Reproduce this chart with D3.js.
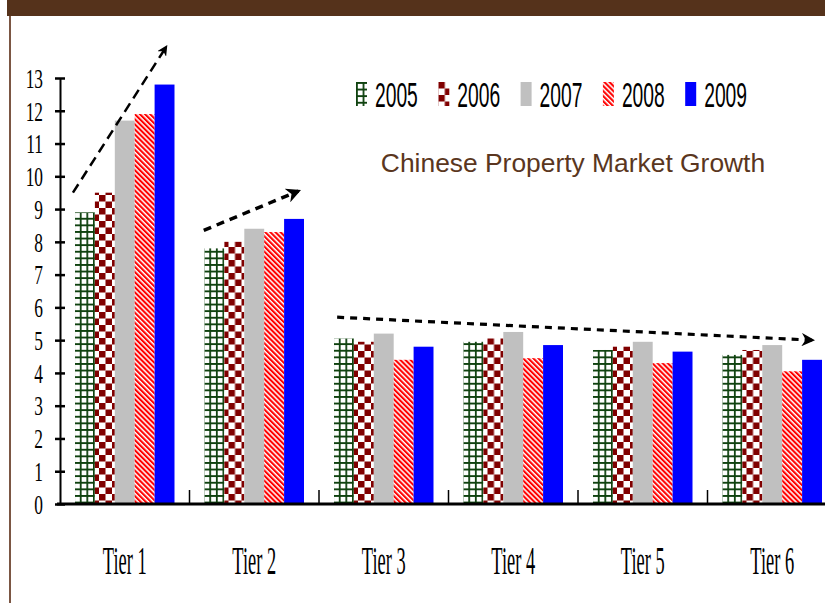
<!DOCTYPE html>
<html>
<head>
<meta charset="utf-8">
<script src="https://cdn.jsdelivr.net/npm/d3@7"></script>
<style>
body { margin: 0; background: #fff; }
svg { display: block; }
</style>
</head>
<body>
<div class="module"></div>
<script>
const tiers = ["Tier 1", "Tier 2", "Tier 3", "Tier 4", "Tier 5", "Tier 6"];
const years = ["2005", "2006", "2007", "2008", "2009"];
const v2005 = [8.9, 7.8, 5.05, 4.95, 4.7, 4.55];
const v2006 = [9.5, 8.0, 4.95, 5.05, 4.8, 4.7];
const v2007 = [11.7, 8.4, 5.2, 5.25, 4.95, 4.85];
const v2008 = [11.9, 8.3, 4.4, 4.45, 4.3, 4.05];
const v2009 = [12.8, 8.7, 4.8, 4.85, 4.65, 4.4];
const yTicks = [0, 1, 2, 3, 4, 5, 6, 7, 8, 9, 10, 11, 12, 13];
const chartTitle = "Chinese Property Market Growth";
// trend arrows, in (tier position, value) units
const trendArrows = [
	{ from: [0.1, 9.5], to: [0.82, 13.95], w: 2.5, dash: "10,6" },
	{ from: [1.11, 8.35], to: [1.84, 9.55], w: 3.5, dash: "8,6" },
	{ from: [2.14, 5.7], to: [5.81, 5.0], w: 3.2, dash: "7,6" }
];

const series = [v2005, v2006, v2007, v2008, v2009];
const data = tiers.map((t, i) => ({ tier: t, vals: years.map((y, j) => ({ year: y, v: series[j][i] })) }));

drawChart(d3.select('.module').node(), data);

function drawChart(rootDOM, data) {
	const W = 825, H = 603;
	const left = 60, right = 837, top = 78, bottom = 504;

	const svg = d3.select(rootDOM).append('svg')
		.attr('width', W).attr('height', H);

	const defs = svg.append('defs');

	// 2005 green grid
	const pGrid = defs.append('pattern').attr('id', 'p2005')
		.attr('patternUnits', 'userSpaceOnUse').attr('width', 6.6).attr('height', 6.6);
	pGrid.append('rect').attr('width', 6.6).attr('height', 6.6).attr('fill', '#fff');
	pGrid.append('path').attr('d', 'M0,0.9H6.6M0.9,0V6.6')
		.attr('stroke', '#0f420f').attr('stroke-width', 1.8);

	// 2006 checker
	const pCheck = defs.append('pattern').attr('id', 'p2006')
		.attr('patternUnits', 'userSpaceOnUse').attr('width', 13).attr('height', 13);
	pCheck.append('rect').attr('width', 13).attr('height', 13).attr('fill', '#fff');
	pCheck.append('rect').attr('width', 6.5).attr('height', 6.5).attr('fill', '#800000');
	pCheck.append('rect').attr('x', 6.5).attr('y', 6.5).attr('width', 6.5).attr('height', 6.5).attr('fill', '#800000');

	// 2008 stripes
	const pStripe = defs.append('pattern').attr('id', 'p2008')
		.attr('patternUnits', 'userSpaceOnUse').attr('width', 3.6).attr('height', 10)
		.attr('patternTransform', 'rotate(-45)');
	pStripe.append('rect').attr('width', 3.6).attr('height', 10).attr('fill', '#fff');
	pStripe.append('rect').attr('width', 2.1).attr('height', 10).attr('fill', '#ff0000');

	const fills = { "2005": "url(#p2005)", "2006": "url(#p2006)", "2007": "#c0c0c0", "2008": "url(#p2008)", "2009": "#0000ff" };

	defs.append('marker').attr('id', 'arrow')
		.attr('viewBox', '0 0 10 10').attr('refX', 8).attr('refY', 5)
		.attr('markerWidth', 4.2).attr('markerHeight', 4.2)
		.attr('markerUnits', 'strokeWidth')
		.attr('orient', 'auto')
		.append('path').attr('d', 'M0,0L10,5L0,10L3,5Z').attr('fill', '#000');

	// frame
	svg.append('rect').attr('x', 7).attr('y', 0).attr('width', W - 7).attr('height', 16).attr('fill', '#55321b');
	svg.append('rect').attr('x', 9).attr('y', 16).attr('width', 2).attr('height', H - 16).attr('fill', '#7b5643');

	const x0 = d3.scaleBand().domain(tiers).range([left, right]).padding(0);
	const x1 = d3.scaleBand().domain(years).range([15, x0.bandwidth() - 15]).padding(0);
	const xc = d3.scaleLinear().domain([0, tiers.length]).range([left, right]);
	const y = d3.scaleLinear().domain([0, 13]).range([bottom, top]);

	const groups = svg.selectAll('.group').data(data).enter().append('g')
		.attr('class', 'group')
		.attr('transform', d => `translate(${x0(d.tier)},0)`);

	groups.selectAll('rect').data(d => d.vals).enter().append('rect')
		.attr('x', d => x1(d.year))
		.attr('y', d => y(d.v))
		.attr('width', x1.bandwidth())
		.attr('height', d => y(0) - y(d.v))
		.attr('fill', d => fills[d.year]);

	// y axis
	const yAxis = svg.append('g').attr('transform', `translate(${left},0)`)
		.call(d3.axisLeft(y).tickValues(yTicks).tickSize(0).tickPadding(17));
	yAxis.select('.domain').attr('stroke', '#000').attr('stroke-width', 2);
	yAxis.selectAll('.tick').append('line')
		.attr('x1', -5).attr('x2', 5).attr('stroke', '#000').attr('stroke-width', 2.5);
	yAxis.selectAll('.tick text')
		.attr('font-family', 'Liberation Serif, Times New Roman, serif')
		.attr('font-size', 28).attr('fill', '#000')
		.attr('dy', '0.33em')
		.each(function () {
			const t = d3.select(this);
			const xx = +t.attr('x');
			t.attr('x', null).attr('transform', `translate(${xx},0) scale(0.62,1)`);
		});

	// x axis
	const xAxis = svg.append('g').attr('transform', `translate(0,${bottom})`)
		.call(d3.axisBottom(x0).tickSize(0).tickPadding(0));
	xAxis.select('.domain').remove();
	xAxis.append('line').attr('x1', left - 3).attr('x2', W).attr('stroke', '#000').attr('stroke-width', 3);
	xAxis.selectAll('.tick text')
		.attr('font-family', 'Liberation Serif, Times New Roman, serif')
		.attr('font-size', 40).attr('fill', '#000')
		.attr('y', null).attr('dy', null)
		.attr('transform', 'translate(0,70) scale(0.46,1)');
	xAxis.selectAll('.sep').data(tiers.slice(1)).enter().append('line')
		.attr('class', 'sep')
		.attr('x1', d => x0(d)).attr('x2', d => x0(d))
		.attr('y1', 0).attr('y2', -14)
		.attr('stroke', '#000').attr('stroke-width', 1.5);

	// trend arrows
	svg.selectAll('.trend').data(trendArrows).enter().append('line')
		.attr('class', 'trend')
		.attr('x1', d => xc(d.from[0])).attr('y1', d => y(d.from[1]))
		.attr('x2', d => xc(d.to[0])).attr('y2', d => y(d.to[1]))
		.attr('stroke', '#000').attr('stroke-width', d => d.w)
		.attr('stroke-dasharray', d => d.dash)
		.attr('marker-end', 'url(#arrow)');

	// legend
	const legend = svg.append('g').attr('transform', 'translate(356,82)');
	const li = legend.selectAll('.li').data(years).enter().append('g')
		.attr('class', 'li')
		.attr('transform', (d, i) => `translate(${i * 82.3},0)`);
	li.append('rect').attr('width', 11).attr('height', 24).attr('fill', d => fills[d]);
	li.append('text').text(d => d)
		.attr('font-family', 'Liberation Sans, Arial, sans-serif')
		.attr('font-size', 35).attr('fill', '#000')
		.attr('transform', 'translate(19,25) scale(0.55,1)');

	svg.append('text').text(chartTitle)
		.attr('x', 573).attr('y', 172)
		.attr('text-anchor', 'middle')
		.attr('font-family', 'Liberation Sans, Arial, sans-serif')
		.attr('font-size', 26.4).attr('fill', '#5a3620');
}
</script>
</body>
</html>
